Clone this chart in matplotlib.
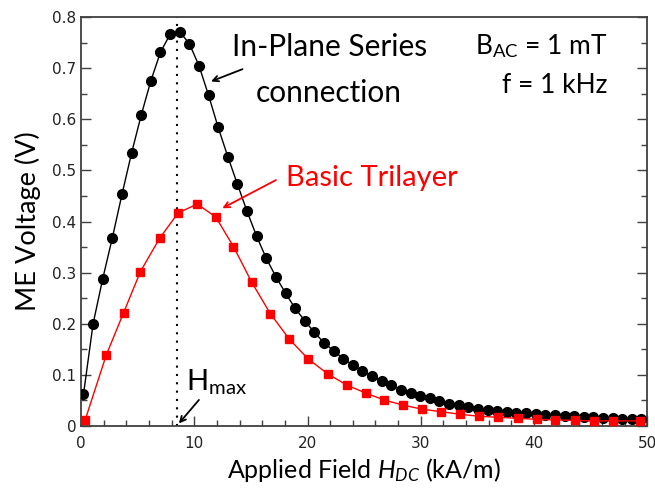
import matplotlib
matplotlib.use("Agg")
import matplotlib.pyplot as plt
from matplotlib.ticker import MultipleLocator

plt.rcParams['font.family'] = ['Lato', 'DejaVu Sans']
plt.rcParams['mathtext.fontset'] = 'custom'
plt.rcParams['mathtext.rm'] = 'Lato'
plt.rcParams['mathtext.it'] = 'Lato:italic'

# In-plane series connection (black circles)
series_x = [0.2, 1.05, 1.9, 2.75, 3.6, 4.45, 5.3, 6.15, 7.0, 7.85,
            8.7, 9.55, 10.4, 11.25, 12.1, 12.95, 13.8, 14.65, 15.5, 16.35,
            17.2, 18.05, 18.9, 19.75, 20.6, 21.45, 22.3, 23.15, 24.0, 24.85,
            25.7, 26.55, 27.4, 28.25, 29.1, 29.95, 30.8, 31.65, 32.5, 33.35,
            34.2, 35.05, 35.9, 36.75, 37.6, 38.45, 39.3, 40.15, 41.0, 41.85,
            42.7, 43.55, 44.4, 45.25, 46.1, 46.95, 47.8, 48.65, 49.5]
series_y = [0.062, 0.200, 0.288, 0.368, 0.453, 0.534, 0.608, 0.675, 0.731, 0.766,
            0.771, 0.748, 0.705, 0.647, 0.584, 0.527, 0.473, 0.420, 0.371, 0.328,
            0.292, 0.260, 0.230, 0.206, 0.183, 0.163, 0.147, 0.132, 0.119, 0.108,
            0.097, 0.088, 0.080, 0.071, 0.065, 0.059, 0.054, 0.049, 0.044, 0.041,
            0.038, 0.034, 0.032, 0.030, 0.028, 0.026, 0.025, 0.024, 0.022, 0.021,
            0.020, 0.019, 0.018, 0.017, 0.016, 0.015, 0.014, 0.014, 0.013]

# Basic trilayer (red squares)
tri_x = [0.35, 2.2, 3.75, 5.23, 6.95, 8.57, 10.25, 11.88, 13.45, 15.07,
         16.7, 18.38, 20.06, 21.78, 23.47, 25.18, 26.75, 28.4, 30.1, 31.77,
         33.45, 35.17, 36.85, 38.56, 40.25, 41.87, 43.6, 45.3, 47.0, 49.4]
tri_y = [0.012, 0.138, 0.222, 0.302, 0.368, 0.417, 0.434, 0.409, 0.351, 0.281,
         0.220, 0.170, 0.131, 0.102, 0.080, 0.064, 0.051, 0.041, 0.033, 0.028,
         0.023, 0.019, 0.017, 0.015, 0.013, 0.012, 0.011, 0.010, 0.010, 0.010]

h_max = 8.48

fig = plt.figure(figsize=(6.55, 5.0), dpi=100)
ax = fig.add_axes([0.124, 0.148, 0.864, 0.818])

ax.plot(series_x, series_y, '-', color='black', linewidth=1.0,
        marker='o', markersize=7, markerfacecolor='black', markeredgecolor='black', zorder=3)
ax.plot(tri_x, tri_y, '-', color='red', linewidth=1.0,
        marker='s', markersize=6.2, markerfacecolor='red', markeredgecolor='red', zorder=3)
ax.axvline(h_max, color='black', linestyle=(0, (1, 3)), linewidth=1.5, zorder=2)

ax.set_xlim(0, 50)
ax.set_ylim(0, 0.8)
ax.xaxis.set_major_locator(MultipleLocator(10))
ax.xaxis.set_minor_locator(MultipleLocator(2))
ax.yaxis.set_minor_locator(MultipleLocator(0.05))
ax.set_yticks([0, 0.1, 0.2, 0.3, 0.4, 0.5, 0.6, 0.7, 0.8])
ax.set_yticklabels(['0', '0.1', '0.2', '0.3', '0.4', '0.5', '0.6', '0.7', '0.8'])

for s in ax.spines.values():
    s.set_color('#404040')
    s.set_linewidth(1.3)
ax.tick_params(which='both', direction='in', right=True, top=False, color='#404040', width=1.0)
ax.tick_params(which='major', length=7, labelsize=11)
ax.tick_params(which='minor', length=4)
ax.tick_params(axis='x', pad=7)
for lbl in ax.get_xticklabels() + ax.get_yticklabels():
    lbl.set_family(['DejaVu Sans'])
    lbl.set_color('#222222')

ax.set_xlabel('Applied Field $H_{DC}$ (kA/m)', fontsize=18, labelpad=4)
ax.set_ylabel('ME Voltage (V)', fontsize=19.5, labelpad=8)

# annotations
ax.text(21.9, 0.742, 'In-Plane Series', fontsize=21.5, ha='center', va='center')
ax.text(21.9, 0.652, 'connection', fontsize=21.5, ha='center', va='center')
ax.annotate('', xy=(11.47, 0.674), xytext=(14.25, 0.698),
            arrowprops=dict(arrowstyle='->', color='black', lw=1.3, shrinkA=0, shrinkB=0))

ax.text(25.7, 0.485, 'Basic Trilayer', fontsize=21, color='red', ha='center', va='center')
ax.annotate('', xy=(12.47, 0.426), xytext=(17.2, 0.481),
            arrowprops=dict(arrowstyle='->', color='red', lw=1.3, shrinkA=0, shrinkB=0))

ax.text(9.3, 0.085, 'H$_{\\mathrm{max}}$', fontsize=21, ha='left', va='center')
ax.annotate('', xy=(8.63, 0.005), xytext=(10.4, 0.051),
            arrowprops=dict(arrowstyle='->', color='black', lw=1.3, shrinkA=0, shrinkB=0))

ax.text(46.5, 0.744, 'B$_{\\mathrm{AC}}$ = 1 mT', fontsize=19, ha='right', va='center')
ax.text(46.5, 0.666, 'f = 1 kHz', fontsize=19, ha='right', va='center')

fig.savefig('out.png', dpi=100)
